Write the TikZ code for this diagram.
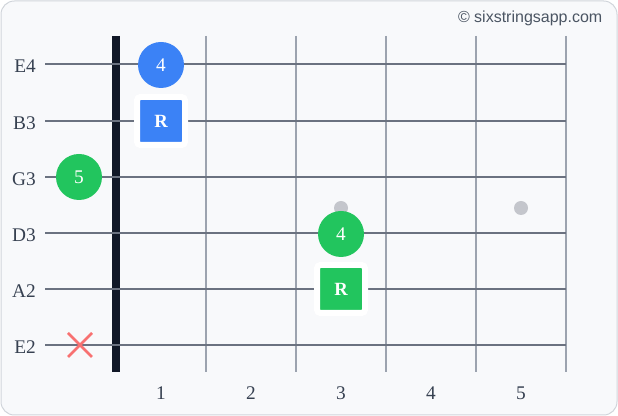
\documentclass[tikz,border=0pt]{standalone}
\usepackage{fontspec}
\setmainfont{Liberation Serif}
\newfontfamily\credfont{Liberation Sans}

\definecolor{notablue}{HTML}{3B82F6}
\definecolor{notagreen}{HTML}{22C55E}
\definecolor{cuerdagris}{HTML}{6B7280}
\definecolor{trastegris}{HTML}{9CA3AF}
\definecolor{cejillanegra}{HTML}{111827}
\definecolor{mudarojo}{HTML}{F87171}
\definecolor{puntogris}{HTML}{C4C6CC}
\definecolor{fondo}{HTML}{F8F9FB}
\definecolor{borde}{HTML}{D1D5DB}
\definecolor{textogris}{HTML}{374151}
\definecolor{credgris}{HTML}{4B5563}

\begin{document}
\begin{tikzpicture}[x=0.75pt,y=-0.75pt,
	nota/.style={circle,minimum size=34.5pt,inner sep=0pt,text=white,font=\fontsize{14.5}{16}\selectfont},
	raiz/.style={rectangle,minimum size=36pt,inner sep=0pt,draw=white,line width=4.5pt,rounded corners=2.5pt,text=white,font=\bfseries\fontsize{14}{16}\selectfont},
	etiqueta/.style={text=textogris,font=\fontsize{14.5}{16}\selectfont}]
		%FONDO
		\useasboundingbox (0,0) rectangle (618,416);
		\draw[draw=borde,fill=fondo,rounded corners=10pt,line width=0.75pt] (1,1) rectangle (617,415);

		%TRASTES
		\foreach \x in {206,296,386,476,566}
			\draw[trastegris,line width=1.5pt] (\x,36) -- (\x,372);

		%CEJILLA
		\draw[cejillanegra,line width=6pt] (116,36) -- (116,372);

		%CUERDAS
		\foreach \y/\n [count=\i] in {64/E4,121/B3,177/G3,233/D3,289/A2,345/E2}{
			\draw[cuerdagris,line width=1.5pt] (45,\y) -- (566,\y);
			\node[etiqueta,anchor=east,inner sep=0pt] (c\i) at (36,\y+2) {\n};
		}

		%NUMEROS
		\foreach \t in {1,...,5}
			\node[etiqueta] (f\t) at ({71+90*\t},393) {\t};

		%PUNTOS
		\fill[puntogris] (341,208) circle (5.25pt);
		\fill[puntogris] (521,208) circle (5.25pt);

		%NOTAS
		\node[nota,fill=notablue] (n1) at (161,65) {4};
		\node[raiz,fill=notablue] (n2) at (161,121) {R};
		\node[nota,fill=notagreen] (n3) at (79,177) {5};
		\node[nota,fill=notagreen] (n4) at (341,234) {4};
		\node[raiz,fill=notagreen] (n5) at (341,289) {R};

		%MUDA
		\draw[mudarojo,line width=2pt] (68,333) -- (92,357) (68,357) -- (92,333);

		%CREDITO
		\node[anchor=east,text=credgris,font=\credfont\fontsize{12}{14}\selectfont] (cred) at (607,18) {© sixstringsapp.com};
	\end{tikzpicture}
\end{document}
